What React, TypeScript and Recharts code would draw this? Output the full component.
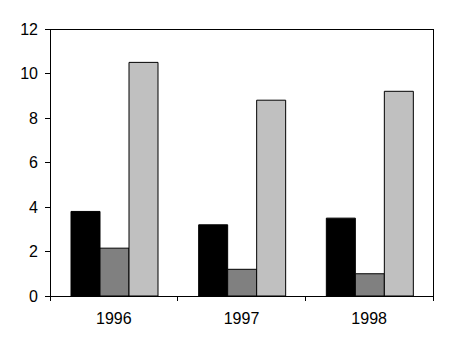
import React from 'react';
import { BarChart, Bar, XAxis, YAxis, CartesianGrid } from 'recharts';

const years = ['1996', '1997', '1998'];
const seriesA = [3.8, 3.2, 3.5];
const seriesB = [2.15, 1.2, 1.0];
const seriesC = [10.5, 8.8, 9.2];
const yTicks = [0, 2, 4, 6, 8, 10, 12];

const data = years.map((year, i) => ({ year, a: seriesA[i], b: seriesB[i], c: seriesC[i] }));

const font = { fontFamily: '"Liberation Sans", Arial, sans-serif', fontSize: 16, fill: '#000' };

const YearTick = (props: any) => {
    const { x, y, payload, index, visibleTicksCount } = props;
    const off = payload.offset || 0;
    const isLast = index === visibleTicksCount - 1;
    return (
        <g>
            <line x1={x - off} x2={x - off} y1={y - 17} y2={y - 12} stroke="#000" shapeRendering="crispEdges" />
            {isLast && <line x1={x + off} x2={x + off} y1={y - 17} y2={y - 12} stroke="#000" shapeRendering="crispEdges" />}
            <text x={x} y={y} dy="0.71em" textAnchor="middle" {...font}>{payload.value}</text>
        </g>
    );
};

const App: React.FC = () => {
    return (
        <div style={{ position: 'absolute', left: 0, top: 0, background: '#fff' }}>
            <BarChart width={449} height={348} data={data} margin={{ top: 29, right: 16, left: 0, bottom: 0 }}
                barCategoryGap={21} barGap={0}>
                <CartesianGrid stroke="#000" strokeDasharray="" shapeRendering="crispEdges"
                    horizontalCoordinatesGenerator={({ offset }: any) => [offset.top]}
                    verticalCoordinatesGenerator={({ offset }: any) => [offset.left + offset.width]} />
                <XAxis dataKey="year" height={52} tickLine={false} tickSize={0} tickMargin={17}
                    axisLine={{ stroke: '#000', shapeRendering: 'crispEdges' }} tick={<YearTick />} interval={0} />
                <YAxis domain={[0, 12]} ticks={yTicks} width={50} tickSize={5} tickMargin={7} interval={0}
                    axisLine={{ stroke: '#000', shapeRendering: 'crispEdges' }}
                    tickLine={{ stroke: '#000', shapeRendering: 'crispEdges' }} tick={font} />
                <Bar dataKey="a" fill="#000000" stroke="#000" isAnimationActive={false} />
                <Bar dataKey="b" fill="#808080" stroke="#000" isAnimationActive={false} />
                <Bar dataKey="c" fill="#C0C0C0" stroke="#000" isAnimationActive={false} />
            </BarChart>
        </div>
    );
};

export default App;
